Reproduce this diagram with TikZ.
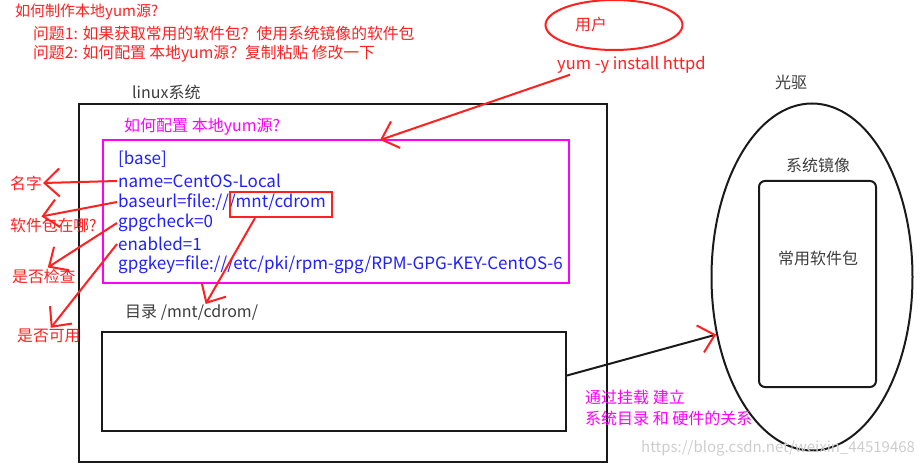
\documentclass[tikz,border=0pt]{standalone}
\usepackage{fontspec}
\setmainfont{Noto Sans CJK SC}
\usepackage{tikz}
\usetikzlibrary{positioning, arrows.meta, shapes.geometric}
\definecolor{note}{HTML}{FF2020}
\definecolor{hint}{HTML}{FF00FF}
\definecolor{conf}{HTML}{2020FF}
\definecolor{ink}{HTML}{1A1A1A}
\tikzset{
  notetxt/.style  = {text=note, font=\fontsize{15.8}{20}\selectfont, inner sep=1pt, anchor=west},
  hinttxt/.style  = {text=hint, font=\fontsize{16}{20}\selectfont, inner sep=1pt, anchor=west},
  conftxt/.style  = {text=conf, font=\fontsize{17}{20}\selectfont, inner sep=1pt, anchor=west},
  inktxt/.style   = {text=ink!85, font=\fontsize{16}{20}\selectfont, inner sep=1pt},
  frame/.style    = {rectangle, draw=ink, line width=2pt, anchor=north west, inner sep=0pt},
  hintbox/.style  = {rectangle, draw=hint, line width=2pt, anchor=north west, inner sep=0pt},
  notebox/.style  = {rectangle, draw=note, line width=2pt, anchor=north west, inner sep=0pt},
  ar/.style       = {-{Straight Barb[length=15pt,width=28pt]}, line width=2pt, draw=note},
}

\begin{document}
\begin{tikzpicture}[x=1pt, y=-1pt]
  \useasboundingbox (0,0) rectangle (922,468);

  % questions
  \node[notetxt, font=\fontsize{15}{20}\selectfont] (q0) at (14,12) {如何制作本地yum源?};
  \node[notetxt] (q1) at (32,33) {问题1: 如果获取常用的软件包？使用系统镜像的软件包};
  \node[notetxt] (q2) at (32,54) {问题2: 如何配置 本地yum源？复制粘贴 修改一下};

  % user
  \node[ellipse, draw=note, line width=2pt, minimum width=137pt, minimum height=50pt] (user) at (614,25) {};
  \node[notetxt] (usertxt) at (574,25) {用户};
  \node[notetxt, font=\fontsize{16.5}{20}\selectfont] (cmd) at (556,65) {yum -y install httpd};

  % linux system
  \node[inktxt, anchor=west] (linuxlbl) at (131,92) {linux系统};
  \node[frame, minimum width=528pt, minimum height=358pt] (linux) at (78,103) {};

  \node[hinttxt] (cfgtitle) at (123,127) {如何配置 本地yum源?};
  \node[hintbox, minimum width=466pt, minimum height=143pt] (cfg) at (102,139) {};
  \coordinate (cfgtip) at (380,140);

  \node[conftxt] (base) at (117,159) {[base]};
  \node[conftxt] (name) at (117,181) {name=CentOS-Local};
  \node[conftxt] (url)  at (117,202) {baseurl=file:///mnt/cdrom};
  \node[conftxt] (chk)  at (117,223) {gpgcheck=0};
  \node[conftxt] (ena)  at (117,244) {enabled=1};
  \node[conftxt] (key)  at (117,265) {gpgkey=file:///etc/pki/rpm-gpg/RPM-GPG-KEY-CentOS-6};
  \node[notebox, minimum width=102pt, minimum height=25pt] (mnt) at (229,191) {};

  \node[inktxt, anchor=west] (dirlbl) at (124,313) {目录 /mnt/cdrom/};
  \node[frame, minimum width=464pt, minimum height=99pt] (dir) at (101,331) {};

  % left notes
  \node[notetxt] (lblname)  at (9,183)  {名字};
  \node[notetxt] (lblwhere) at (9,225)  {软件包在哪?};
  \node[notetxt] (lblchk)   at (11,276) {是否检查};
  \node[notetxt] (lblena)   at (16,336) {是否可用};

  % cdrom
  \node[inktxt] (cdlbl) at (791,82) {光驱};
  \node[ellipse, draw=ink, line width=2pt, minimum width=201pt, minimum height=347pt] (cdrom) at (812,277) {};
  \node[inktxt] (isolbl) at (818,165) {系统镜像};
  \node[frame, rounded corners=6pt, minimum width=117pt, minimum height=206pt] (pkg) at (758,180) {};
  \node[inktxt] (pkglbl) at (818,258) {常用软件包};

  \node[hinttxt, align=left, font=\fontsize{16}{21}\selectfont] (mount) at (584,408) {通过挂载 建立\\系统目录 和 硬件的关系};
  \node[inktxt, text=ink!22, anchor=west, font=\fontsize{15}{18}\selectfont] (mark) at (640,448) {https://blog.csdn.net/weixin\_44519468};

  \draw[ar] ([xshift=14pt]cmd.south west) -- (cfgtip);
  \draw[ar] (name.west) -- (lblname.east);
  \draw[ar] (url.west) -- ([xshift=-12pt]lblwhere.north);
  \draw[ar] (chk.west) -- ([xshift=4pt]lblchk.north);
  \draw[ar] (ena.west) -- ([xshift=2pt]lblena.north);
  \draw[ar] ([xshift=-26pt]mnt.south) -- ([xshift=14pt]dirlbl.north);
  \draw[line width=2pt, draw=ink, -{Straight Barb[color=note, length=15pt, width=28pt]}] ([yshift=6pt]dir.east) -- (cdrom.211);

\end{tikzpicture}
\end{document}
